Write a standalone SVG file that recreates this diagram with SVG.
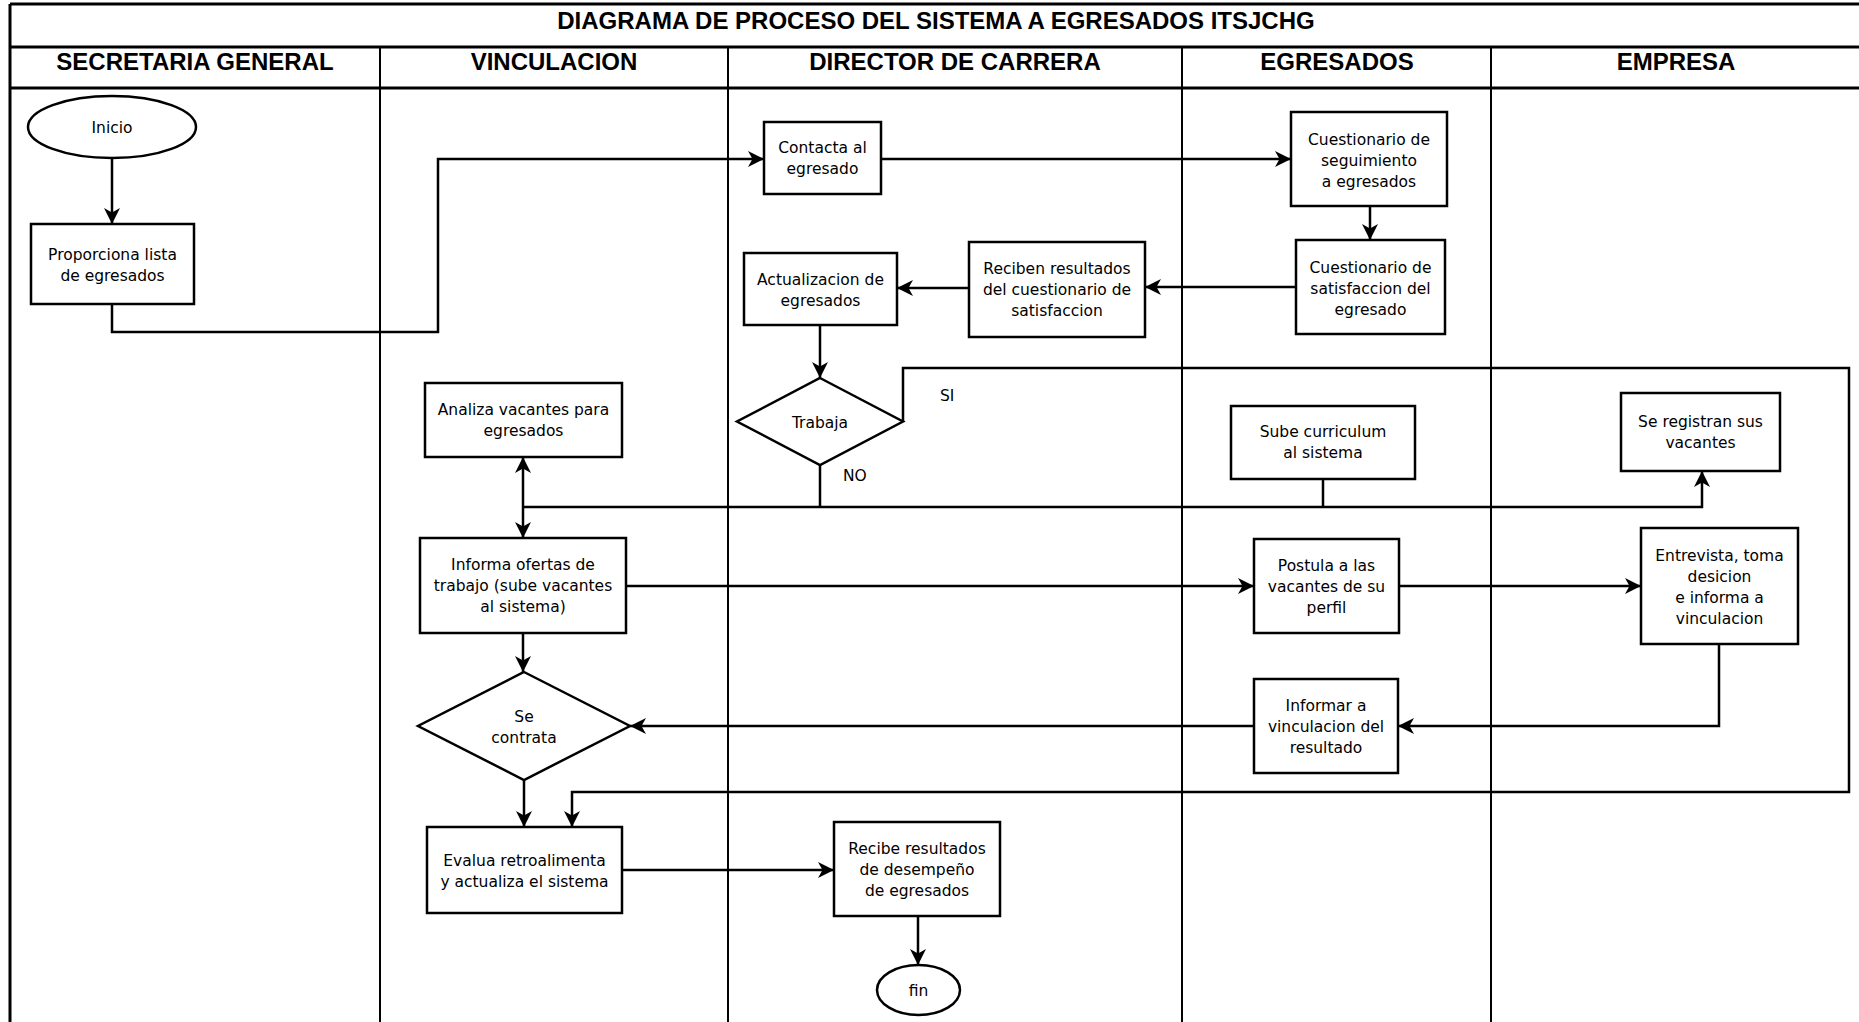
<svg xmlns="http://www.w3.org/2000/svg" width="1859" height="1022" viewBox="0 0 1859 1022">
<style>
.lane{stroke:#000;stroke-width:2;fill:none}
.frame{stroke:#000;stroke-width:3;fill:none}
.h{font-family:"Liberation Sans",Arial,sans-serif;font-weight:bold;font-size:24px;text-anchor:middle;fill:#000}
.box{fill:#fff;stroke:#000;stroke-width:2.5}
.t{font-family:"DejaVu Sans",Verdana,sans-serif;font-size:15.5px;text-anchor:middle;fill:#000}
.l{font-family:"DejaVu Sans",Verdana,sans-serif;font-size:15.5px;fill:#000}
.c{fill:none;stroke:#000;stroke-width:2.5}
.ca{fill:none;stroke:#000;stroke-width:2.5;marker-end:url(#arr)}
</style>
<defs>
<marker id="arr" markerUnits="userSpaceOnUse" markerWidth="18" markerHeight="16" refX="16" refY="8" orient="auto" overflow="visible">
<path d="M0,0 L16,8 L0,16 L4.5,8 Z" fill="#000"/>
</marker>
</defs>
<rect width="1859" height="1022" fill="#fff"/>
<g id="swimlanes">
<line class="frame" x1="10" y1="4" x2="1859" y2="4"/>
<line class="frame" x1="10" y1="4" x2="10" y2="1022"/>
<line class="frame" x1="10" y1="47" x2="1859" y2="47"/>
<line class="frame" x1="10" y1="88" x2="1859" y2="88"/>
<line class="lane" x1="380" y1="47" x2="380" y2="1022"/>
<line class="lane" x1="728" y1="47" x2="728" y2="1022"/>
<line class="lane" x1="1182" y1="47" x2="1182" y2="1022"/>
<line class="lane" x1="1491" y1="47" x2="1491" y2="1022"/>
<text class="h" x="936" y="29">DIAGRAMA DE PROCESO DEL SISTEMA A EGRESADOS ITSJCHG</text>
<text class="h" x="195" y="70">SECRETARIA GENERAL</text>
<text class="h" x="554" y="70">VINCULACION</text>
<text class="h" x="955" y="70">DIRECTOR DE CARRERA</text>
<text class="h" x="1337" y="70">EGRESADOS</text>
<text class="h" x="1676" y="70">EMPRESA</text>
</g>
<g id="connectors">
<path class="ca" d="M112,158 V224"/>
<path class="ca" d="M112,304 V332 H438 V159 H764"/>
<path class="ca" d="M881,159 H1291"/>
<path class="ca" d="M1370,206 V240"/>
<path class="ca" d="M1296,287 H1145"/>
<path class="ca" d="M969,288 H897"/>
<path class="ca" d="M820,325 V378"/>
<path class="ca" d="M903,421.5 V368 H1849 V792 H572 V827"/>
<path class="c" d="M820,465 V507"/>
<path class="c" d="M1323,479 V507"/>
<path class="ca" d="M523,507 H1702 V471"/>
<path class="ca" d="M523,507 V457"/>
<path class="ca" d="M523,507 V538"/>
<path class="ca" d="M626,586 H1254"/>
<path class="ca" d="M1399,586 H1641"/>
<path class="ca" d="M1719,644 V726 H1398"/>
<path class="ca" d="M1254,726 H630"/>
<path class="ca" d="M523,633 V672"/>
<path class="ca" d="M524,780 V827"/>
<path class="ca" d="M622,870 H834"/>
<path class="ca" d="M918,916 V965"/>
<text class="l" x="940" y="400.5">SI</text>
<text class="l" x="843" y="480.5">NO</text>
</g>
<g id="inicio">
<ellipse class="box" cx="112" cy="127" rx="84" ry="31"/>
<text class="t" x="112" y="132.5">Inicio</text>
</g>
<g id="proporciona">
<rect class="box" x="31" y="224" width="163" height="80"/>
<text class="t" x="112.5" y="259.5">Proporciona lista</text>
<text class="t" x="112.5" y="280.5">de egresados</text>
</g>
<g id="contacta">
<rect class="box" x="764" y="122" width="117" height="72"/>
<text class="t" x="822.5" y="153">Contacta al</text>
<text class="t" x="822.5" y="174">egresado</text>
</g>
<g id="seguimiento">
<rect class="box" x="1291" y="112" width="156" height="94"/>
<text class="t" x="1369" y="144.5">Cuestionario de</text>
<text class="t" x="1369" y="165.5">seguimiento</text>
<text class="t" x="1369" y="186.5">a egresados</text>
</g>
<g id="satisfaccion">
<rect class="box" x="1296" y="240" width="149" height="94"/>
<text class="t" x="1370.5" y="272.5">Cuestionario de</text>
<text class="t" x="1370.5" y="293.5">satisfaccion del</text>
<text class="t" x="1370.5" y="314.5">egresado</text>
</g>
<g id="reciben">
<rect class="box" x="969" y="242" width="176" height="95"/>
<text class="t" x="1057" y="274">Reciben resultados</text>
<text class="t" x="1057" y="295">del cuestionario de</text>
<text class="t" x="1057" y="316">satisfaccion</text>
</g>
<g id="actualizacion">
<rect class="box" x="744" y="253" width="153" height="72"/>
<text class="t" x="820.5" y="284.5">Actualizacion de</text>
<text class="t" x="820.5" y="305.5">egresados</text>
</g>
<g id="trabaja">
<polygon class="box" points="820,378 903,421.5 820,465 737,421.5"/>
<text class="t" x="820" y="427.5">Trabaja</text>
</g>
<g id="analiza">
<rect class="box" x="425" y="383" width="197" height="74"/>
<text class="t" x="523.5" y="414.5">Analiza vacantes para</text>
<text class="t" x="523.5" y="435.5">egresados</text>
</g>
<g id="sube">
<rect class="box" x="1231" y="406" width="184" height="73"/>
<text class="t" x="1323" y="437">Sube curriculum</text>
<text class="t" x="1323" y="458">al sistema</text>
</g>
<g id="registran">
<rect class="box" x="1621" y="393" width="159" height="78"/>
<text class="t" x="1700.5" y="426.5">Se registran sus</text>
<text class="t" x="1700.5" y="447.5">vacantes</text>
</g>
<g id="informa">
<rect class="box" x="420" y="538" width="206" height="95"/>
<text class="t" x="523" y="570">Informa ofertas de</text>
<text class="t" x="523" y="591">trabajo (sube vacantes</text>
<text class="t" x="523" y="612">al sistema)</text>
</g>
<g id="postula">
<rect class="box" x="1254" y="539" width="145" height="94"/>
<text class="t" x="1326.5" y="571">Postula a las</text>
<text class="t" x="1326.5" y="592">vacantes de su</text>
<text class="t" x="1326.5" y="613">perfil</text>
</g>
<g id="entrevista">
<rect class="box" x="1641" y="528" width="157" height="116"/>
<text class="t" x="1719.5" y="560.5">Entrevista, toma</text>
<text class="t" x="1719.5" y="581.5">desicion</text>
<text class="t" x="1719.5" y="602.5">e informa a</text>
<text class="t" x="1719.5" y="623.5">vinculacion</text>
</g>
<g id="secontrata">
<polygon class="box" points="524,672 630,726 524,780 418,726"/>
<text class="t" x="524" y="721.5">Se</text>
<text class="t" x="524" y="742.5">contrata</text>
</g>
<g id="informar">
<rect class="box" x="1254" y="679" width="144" height="94"/>
<text class="t" x="1326" y="711">Informar a</text>
<text class="t" x="1326" y="732">vinculacion del</text>
<text class="t" x="1326" y="753">resultado</text>
</g>
<g id="evalua">
<rect class="box" x="427" y="827" width="195" height="86"/>
<text class="t" x="524.5" y="866">Evalua retroalimenta</text>
<text class="t" x="524.5" y="887">y actualiza el sistema</text>
</g>
<g id="recibe">
<rect class="box" x="834" y="822" width="166" height="94"/>
<text class="t" x="917" y="853.5">Recibe resultados</text>
<text class="t" x="917" y="874.5">de desempeño</text>
<text class="t" x="917" y="895.5">de egresados</text>
</g>
<g id="fin">
<ellipse class="box" cx="918.5" cy="990" rx="41.5" ry="25"/>
<text class="t" x="918.5" y="995.5">fin</text>
</g>
</svg>
